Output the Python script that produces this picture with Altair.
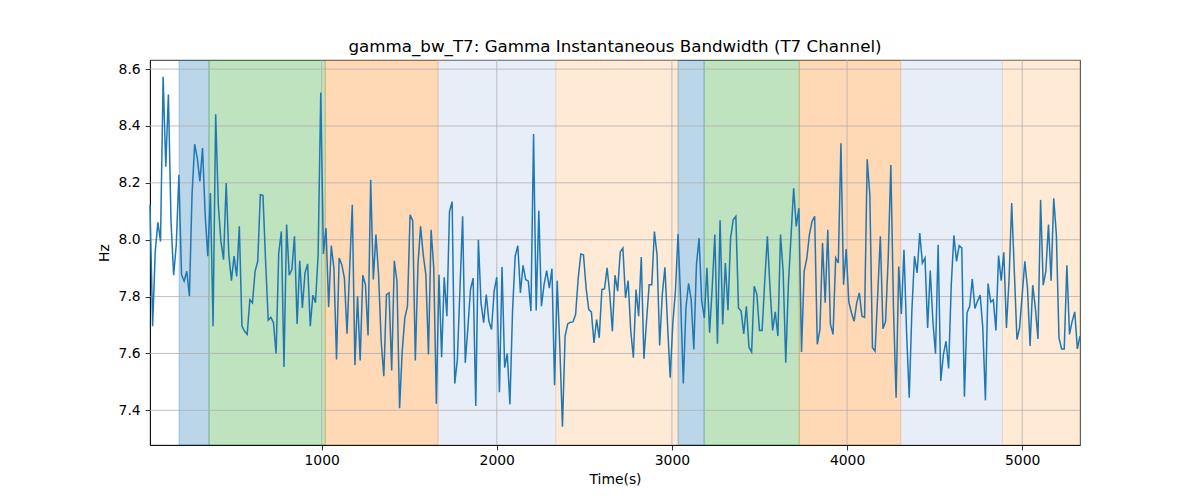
import altair as alt
import pandas as pd

# ---- data ----
T0 = 20          # first sample time (s)
DT = 15          # sampling step (s)

values = [
    8.123, 7.696, 7.959, 8.061, 7.994, 8.573, 8.257, 8.511, 8.064, 7.875,
    7.982, 8.228, 7.877, 7.854, 7.889, 7.801, 8.158, 8.336, 8.287, 8.205,
    8.322, 8.088, 7.942, 8.164, 7.696, 8.441, 8.123, 7.994, 7.930, 8.199,
    7.947, 7.856, 7.942, 7.871, 8.047, 7.696, 7.678, 7.667, 7.789, 7.778,
    7.889, 7.924, 8.158, 8.156, 7.924, 7.717, 7.727, 7.708, 7.600, 7.953,
    8.029, 7.552, 8.053, 7.875, 7.895, 8.012, 7.704, 7.926, 7.760, 7.883,
    7.915, 7.696, 7.805, 7.778, 7.947, 8.518, 7.950, 8.041, 7.763, 7.979,
    7.901, 7.579, 7.936, 7.912, 7.865, 7.669, 7.901, 8.123, 7.559, 7.801,
    7.575, 7.875, 7.842, 7.663, 8.211, 7.860, 8.018, 7.877, 7.643, 7.520,
    7.807, 7.813, 7.540, 7.926, 7.854, 7.407, 7.608, 7.725, 7.766, 8.088,
    8.067, 7.575, 7.912, 8.047, 7.947, 7.877, 7.596, 8.035, 7.901, 7.423,
    7.877, 7.587, 7.868, 7.731, 8.099, 8.134, 7.494, 7.579, 7.830, 8.082,
    7.567, 7.690, 7.825, 7.865, 7.415, 8.000, 7.778, 7.708, 7.807, 7.713,
    7.684, 7.819, 7.868, 7.464, 7.904, 7.550, 7.599, 7.421, 7.749, 7.942,
    7.979,
    7.813, 7.910, 7.860, 7.854, 7.749, 8.372, 7.751, 8.102, 7.766, 7.842,
    7.891, 7.830, 7.898, 7.488, 7.856, 7.620, 7.342, 7.661, 7.704, 7.710,
    7.711, 7.737, 7.865, 7.950, 7.947, 7.830, 7.754, 7.746, 7.637, 7.719,
    7.655, 7.825, 7.827, 7.901, 7.809, 7.678, 7.875, 7.819, 7.957, 7.971,
    7.795, 7.856, 7.678, 7.585, 7.825, 7.731, 7.939, 7.581, 7.713, 7.842,
    7.842, 8.029, 7.947, 7.628, 7.807, 7.903, 7.702, 7.515, 7.704, 7.819,
    8.020, 7.786, 7.494, 7.760, 7.846, 7.789, 7.614, 7.912, 8.006, 7.784,
    7.725,
    7.901, 7.673, 7.830, 8.018, 7.634, 8.068, 7.702, 7.918, 7.752, 8.006,
    8.070, 8.082, 7.760, 7.749, 7.669, 7.766, 7.622, 7.605, 7.836, 7.807,
    7.681, 7.681, 7.854, 8.012, 7.830, 7.681, 7.746, 7.661, 8.018, 7.889,
    7.567, 7.842, 8.012, 8.181, 8.047, 8.111, 7.605, 7.889, 7.933, 8.018,
    8.064, 8.082, 7.632, 7.684, 7.988, 7.778, 8.035, 7.702, 7.667, 7.936,
    7.918, 8.339, 7.842, 7.967, 7.781, 7.743, 7.713, 7.778, 7.813, 7.731,
    7.727, 8.283, 8.158, 7.620, 7.608, 7.807, 8.012, 7.687, 7.713, 7.936,
    8.263, 7.760, 7.444, 7.906, 7.739, 7.965, 7.673, 7.444, 7.749, 7.942,
    7.883, 8.023, 7.918, 7.936, 7.690, 7.892, 7.713, 7.599, 7.982, 7.503,
    7.596, 7.643, 7.547, 7.842, 8.015, 7.924, 7.979, 7.971, 7.448, 7.743,
    7.766, 7.862, 7.758, 7.784, 7.805, 7.690, 7.435, 7.846, 7.781, 7.789,
    7.681, 7.944, 7.856, 7.956, 7.690, 7.862, 8.129, 7.889, 7.649, 7.690,
    7.807, 7.924, 7.830, 7.626, 7.840, 7.760, 7.651, 8.140, 7.840, 7.889,
    8.053, 7.856, 8.146, 8.018, 7.655, 7.616, 7.616, 7.910, 7.667, 7.713,
    7.746, 7.616, 7.661,
]
times = [T0 + DT * i for i in range(len(values))]

span_start = [186, 357, 1021, 1665, 2337, 3035, 3184, 3727, 4306, 4887]
span_end = [357, 1021, 1665, 2337, 3035, 3184, 3727, 4306, 4887, 5400]
span_color = ["#1f77b4", "#2ca02c", "#ff7f0e", "#aec7e8", "#ffbb78",
              "#1f77b4", "#2ca02c", "#ff7f0e", "#aec7e8", "#ffbb78"]

x_ticks = [1000, 2000, 3000, 4000, 5000]
y_ticks = [7.4, 7.6, 7.8, 8.0, 8.2, 8.4, 8.6]

X_DOMAIN = [times[0], times[-1]]
Y_DOMAIN = [7.278, 8.632]

line_df = pd.DataFrame({"t": times, "v": values})
span_df = pd.DataFrame({"s": span_start, "e": span_end, "c": span_color})
xg_df = pd.DataFrame({"t": x_ticks})
yg_df = pd.DataFrame({"v": y_ticks})

FONT = "DejaVu Sans"
xscale = alt.Scale(domain=X_DOMAIN, nice=False, zero=False)
yscale = alt.Scale(domain=Y_DOMAIN, nice=False, zero=False)
xaxis = alt.Axis(values=x_ticks, format="d", title="Time(s)", grid=False,
                 tickSize=4.9, tickColor="black", tickWidth=0.8,
                 domainColor="black", domainWidth=0.8,
                 labelPadding=3.5, labelFont=FONT, labelFontSize=13.9,
                 labelColor="black", titleFont=FONT, titleFontSize=13.9,
                 titleFontWeight="normal", titleColor="black", titlePadding=5)
yaxis = alt.Axis(values=y_ticks, format=".1f", title="Hz", grid=False,
                 tickSize=4.9, tickColor="black", tickWidth=0.8,
                 domainColor="black", domainWidth=0.8,
                 labelPadding=4.9, labelFont=FONT, labelFontSize=13.9,
                 labelColor="black", titleFont=FONT, titleFontSize=13.9,
                 titleFontWeight="normal", titleColor="black", titlePadding=7)

spans = alt.Chart(span_df).mark_rect(
    fillOpacity=0.3, strokeOpacity=0.3, strokeWidth=1, clip=True
).encode(
    x=alt.X("s:Q", scale=xscale, axis=xaxis),
    x2="e:Q",
    color=alt.Color("c:N", scale=None),
    stroke=alt.Stroke("c:N", scale=None),
)

xgrid = alt.Chart(xg_df).mark_rule(color="#b0b0b0", strokeWidth=0.8).encode(
    x=alt.X("t:Q", scale=xscale, axis=xaxis)
)
ygrid = alt.Chart(yg_df).mark_rule(color="#b0b0b0", strokeWidth=0.8).encode(
    y=alt.Y("v:Q", scale=yscale, axis=yaxis)
)

line = alt.Chart(line_df).mark_line(color="#1f77b4", strokeWidth=1.5).encode(
    x=alt.X("t:Q", scale=xscale, axis=xaxis),
    y=alt.Y("v:Q", scale=yscale, axis=yaxis),
)

chart = alt.layer(spans, xgrid, ygrid, line).properties(
    width=930,
    height=385,
    title=alt.TitleParams(
        "gamma_bw_T7: Gamma Instantaneous Bandwidth (T7 Channel)",
        font=FONT, fontSize=16.7, fontWeight="normal", color="black",
        anchor="middle", baseline="alphabetic", offset=8, dy=17,
    ),
    autosize=alt.AutoSizeParams(type="none"),
    padding={"left": 142, "top": 52, "right": 110, "bottom": 47},
).configure_view(stroke="black", strokeWidth=0.8)

chart.save("out.html", embed_options={"renderer": "svg", "actions": False})
